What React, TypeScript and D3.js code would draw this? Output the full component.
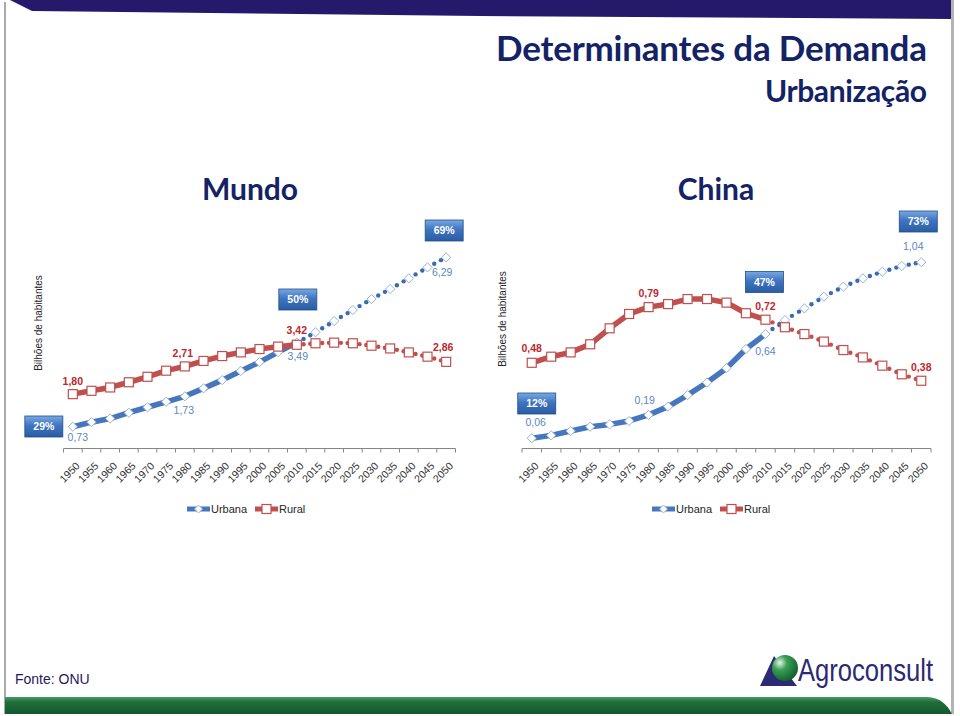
import React from "react";
import * as d3 from "d3";

const years = ["1950","1955","1960","1965","1970","1975","1980","1985","1990","1995","2000","2005","2010","2015","2020","2025","2030","2035","2040","2045","2050"];
const mundoUrbana = [0.73, 0.88, 1.0, 1.19, 1.37, 1.55, 1.73, 1.99, 2.26, 2.56, 2.85, 3.18, 3.49, 3.83, 4.2, 4.56, 4.92, 5.25, 5.6, 5.96, 6.29];
const mundoRural = [1.8, 1.91, 2.02, 2.19, 2.37, 2.57, 2.71, 2.89, 3.05, 3.17, 3.28, 3.36, 3.42, 3.47, 3.49, 3.47, 3.39, 3.3, 3.17, 3.03, 2.86];
const chinaUrbana = [0.06, 0.076, 0.1, 0.124, 0.137, 0.156, 0.19, 0.236, 0.3, 0.37, 0.45, 0.557, 0.64, 0.718, 0.783, 0.848, 0.904, 0.95, 0.987, 1.019, 1.04];
const chinaRural = [0.48, 0.514, 0.538, 0.583, 0.672, 0.752, 0.79, 0.807, 0.835, 0.835, 0.815, 0.756, 0.72, 0.678, 0.64, 0.598, 0.551, 0.51, 0.464, 0.416, 0.38];
const projectionStart = 12; // 2010
const mundoShares = ["29%", "50%", "69%"];
const chinaShares = ["12%", "47%", "73%"];
const seriesNames = ["Urbana", "Rural"];

const BLUE = "#4677bd";
const BLUE_DOT = "#3b6aae";
const BLUE_LBL = "#5b87c2";
const RED = "#c0504d";
const RED_LBL = "#c0272d";

type Lbl = { s: "u" | "r"; i: number; dx: number; dy: number };
type Box = { i: number; dx: number; cy: number };

const mundoCfg = {
  title: "Mundo", titleX: 250,
  urb: mundoUrbana, rur: mundoRural, shares: mundoShares,
  x0: 63.5, x1: 455.5, yMax: 7, yTop: 235.7,
  axisTitleX: 42, axisTitleY: 323,
  legendX: 187,
  labels: [
    { s: "r", i: 0, dx: 0, dy: -13 }, { s: "r", i: 6, dx: -2, dy: -13 },
    { s: "r", i: 12, dx: 0, dy: -14 }, { s: "r", i: 20, dx: -3, dy: -15 },
    { s: "u", i: 0, dx: 5, dy: 11 }, { s: "u", i: 6, dx: -1, dy: 14 },
    { s: "u", i: 12, dx: 1, dy: 14 }, { s: "u", i: 20, dx: -4, dy: 15 },
  ] as Lbl[],
  boxes: [{ i: 0, dx: -29, cy: 426.5 }, { i: 12, dx: 1, cy: 299.5 }, { i: 20, dx: -2, cy: 230.5 }] as Box[],
};
const chinaCfg = {
  title: "China", titleX: 716,
  urb: chinaUrbana, rur: chinaRural, shares: chinaShares,
  x0: 522, x1: 931, yMax: 1.2, yTop: 233.5,
  axisTitleX: 506, axisTitleY: 319,
  legendX: 652,
  labels: [
    { s: "r", i: 0, dx: 0, dy: -14 }, { s: "r", i: 6, dx: 0, dy: -14 },
    { s: "r", i: 12, dx: 0, dy: -13 }, { s: "r", i: 20, dx: 0, dy: -13 },
    { s: "u", i: 0, dx: 4, dy: -15.5 }, { s: "u", i: 6, dx: -4, dy: -15 },
    { s: "u", i: 12, dx: 0, dy: 17 }, { s: "u", i: 20, dx: -8, dy: -15.5 },
  ] as Lbl[],
  boxes: [{ i: 0, dx: 5, cy: 403.5 }, { i: 12, dx: -1, cy: 282 }, { i: 20, dx: -3, cy: 221.5 }] as Box[],
};

const fmt = (v: number) => v.toFixed(2).replace(".", ",");
const diamond = (x: number, y: number, r = 4.6) => `M${x},${y - r}L${x + r},${y}L${x},${y + r}L${x - r},${y}Z`;

function Panel({ cfg }: { cfg: typeof mundoCfg }) {
  const AXIS_Y = 449;
  const x = d3.scaleBand<string>().domain(years).range([cfg.x0, cfg.x1]).padding(0);
  const y = d3.scaleLinear().domain([0, cfg.yMax]).range([AXIS_Y, cfg.yTop]);
  const cx = (i: number) => (x(years[i]) as number) + x.bandwidth() / 2;
  const line = d3.line<number>().x((_, i) => cx(i)).y((d) => y(d)).curve(d3.curveLinear);
  const solid = (arr: number[]) => line(arr.slice(0, projectionStart + 1)) || "";
  const proj = (arr: number[]) => {
    const dots: [number, number][] = [];
    for (let i = projectionStart; i < arr.length - 1; i++) {
      for (const f of [0.36, 0.72]) {
        dots.push([cx(i) + f * (cx(i + 1) - cx(i)), y(arr[i]) + f * (y(arr[i + 1]) - y(arr[i]))]);
      }
    }
    return dots;
  };
  const ticks = d3.range(years.length + 1).map((i) => cfg.x0 + i * x.bandwidth());
  const lx = cfg.legendX;
  return (
    <g fontFamily="Liberation Sans, Arial, sans-serif">
      <text x={cfg.titleX} y={200} textAnchor="middle" fontFamily="Lato, sans-serif" fontWeight={700} fontSize={30} fill="#142266">{cfg.title}</text>
      <text transform={`translate(${cfg.axisTitleX},${cfg.axisTitleY}) rotate(-90)`} textAnchor="middle" fontSize={10} fill="#262626">Bilhões de habitantes</text>
      {/* axis */}
      <line x1={cfg.x0} x2={cfg.x1} y1={AXIS_Y - 0.5} y2={AXIS_Y - 0.5} stroke="#868686" strokeWidth={1} />
      {ticks.map((t, i) => (
        <line key={i} x1={t} x2={t} y1={AXIS_Y - 0.5} y2={AXIS_Y + 3.5} stroke="#868686" strokeWidth={1} />
      ))}
      {years.map((yr, i) => (
        <text key={yr} transform={`translate(${cx(i) + 5},${AXIS_Y + 15}) rotate(-45)`} textAnchor="end" dy="0.35em" fontSize={10.5} fill="#333">{yr}</text>
      ))}
      {/* projections */}
      {proj(cfg.rur).map(([px, py], k) => <circle key={"rd" + k} cx={px} cy={py} r={2.2} fill={RED} />)}
      {proj(cfg.urb).map(([px, py], k) => <circle key={"ud" + k} cx={px} cy={py} r={2.2} fill={BLUE_DOT} />)}
      {/* solid lines */}
      <path d={solid(cfg.urb)} fill="none" stroke={BLUE} strokeWidth={5.5} strokeLinejoin="round" strokeLinecap="round" />
      <path d={solid(cfg.rur)} fill="none" stroke={RED} strokeWidth={5.5} strokeLinejoin="round" strokeLinecap="round" />
      {/* markers */}
      {cfg.urb.map((v, i) => (
        <path key={"um" + i} d={diamond(cx(i), y(v))} fill="#fff" stroke="#95b3d7" strokeWidth={1} />
      ))}
      {cfg.rur.map((v, i) => (
        <rect key={"rm" + i} x={cx(i) - 4.5} y={y(v) - 4.5} width={9} height={9} fill="#fff" stroke={RED} strokeWidth={1.2} />
      ))}
      {/* labels */}
      {cfg.labels.map((l, k) => {
        const v = l.s === "u" ? cfg.urb[l.i] : cfg.rur[l.i];
        return (
          <text key={"l" + k} x={cx(l.i) + l.dx} y={y(v) + l.dy} dy="0.35em" textAnchor="middle" fontSize={10.5}
            fontWeight={l.s === "r" ? 700 : 400} fill={l.s === "r" ? RED_LBL : BLUE_LBL}>{fmt(v)}</text>
        );
      })}
      {/* share boxes */}
      {cfg.boxes.map((b, k) => {
        const bx = cx(b.i) + b.dx;
        return (
          <g key={"b" + k}>
            <rect x={bx - 19} y={b.cy - 10.5} width={38} height={21} fill="url(#boxGrad)" stroke="#1f4f8f" strokeWidth={0.8} />
            <text x={bx} y={b.cy} dy="0.36em" textAnchor="middle" fill="#fff" fontWeight={700} fontSize={10.5}>{cfg.shares[k]}</text>
          </g>
        );
      })}
      {/* legend */}
      <g>
        <line x1={lx} x2={lx + 23} y1={509} y2={509} stroke={BLUE} strokeWidth={5} />
        <path d={diamond(lx + 11.5, 509, 4)} fill="#fff" stroke="#95b3d7" strokeWidth={1} />
        <text x={lx + 24} y={509} dy="0.35em" fontSize={11} fill="#262626">{seriesNames[0]}</text>
        <line x1={lx + 68} x2={lx + 91} y1={509} y2={509} stroke={RED} strokeWidth={5} />
        <rect x={lx + 75} y={504.5} width={9} height={9} fill="#fff" stroke={RED} strokeWidth={1.2} />
        <text x={lx + 92} y={509} dy="0.35em" fontSize={11} fill="#262626">{seriesNames[1]}</text>
      </g>
    </g>
  );
}

export default function App() {
  return (
    <svg width={960} height={716} style={{ position: "absolute", left: 0, top: 0, background: "#fff" }}>
      <defs>
        <linearGradient id="boxGrad" x1="0" y1="0" x2="0" y2="1">
          <stop offset="0" stopColor="#79a8e2" />
          <stop offset="0.45" stopColor="#3f75c0" />
          <stop offset="1" stopColor="#2a5ca3" />
        </linearGradient>
        <linearGradient id="greenBand" x1="0" y1="0" x2="0" y2="1">
          <stop offset="0" stopColor="#4c9a63" />
          <stop offset="0.3" stopColor="#1f6e3b" />
          <stop offset="1" stopColor="#145a2c" />
        </linearGradient>
        <radialGradient id="sphere" cx="0.3" cy="0.3" r="0.8">
          <stop offset="0" stopColor="#e8f5ea" />
          <stop offset="0.35" stopColor="#3aa055" />
          <stop offset="1" stopColor="#0d5a2a" />
        </radialGradient>
      </defs>
      <rect width={960} height={716} fill="#fff" />
      {/* frame */}
      <path d="M10,0 L953,0 L953,19 L480,16 L32,11 Z" fill="#24196b" />
      <line x1={5} x2={5} y1={2} y2={714} stroke="#8c8c8c" strokeWidth={1.5} />
      <rect x={951} y={0} width={3} height={714} fill="#b3b3b3" />
      <path d="M5,697 L928,697 Q944,698 952,714 L5,714 Z" fill="url(#greenBand)" />
      {/* titles */}
      <text x={927} y={61} textAnchor="end" fontFamily="Lato, sans-serif" fontWeight={700} fontSize={35} fill="#142266" textLength={431} lengthAdjust="spacing">Determinantes da Demanda</text>
      <text x={927} y={102} textAnchor="end" fontFamily="Lato, sans-serif" fontWeight={700} fontSize={30} fill="#142266" textLength={162} lengthAdjust="spacing">Urbanização</text>
      <Panel cfg={mundoCfg} />
      <Panel cfg={chinaCfg} />
      {/* footer */}
      <text x={15} y={684} fontFamily="Liberation Sans, Arial, sans-serif" fontSize={14} fill="#1f1a5c">Fonte:  ONU</text>
      <path d="M760,686 L774,656 L797,686 Z" fill="#2b2a73" />
      <circle cx={785} cy={668} r={13} fill="url(#sphere)" />
      <text transform="translate(798,681) scale(0.8,1)" fontFamily="Liberation Sans, Arial, sans-serif" fontSize={32} fill="#2b2a73">Agroconsult</text>
    </svg>
  );
}
